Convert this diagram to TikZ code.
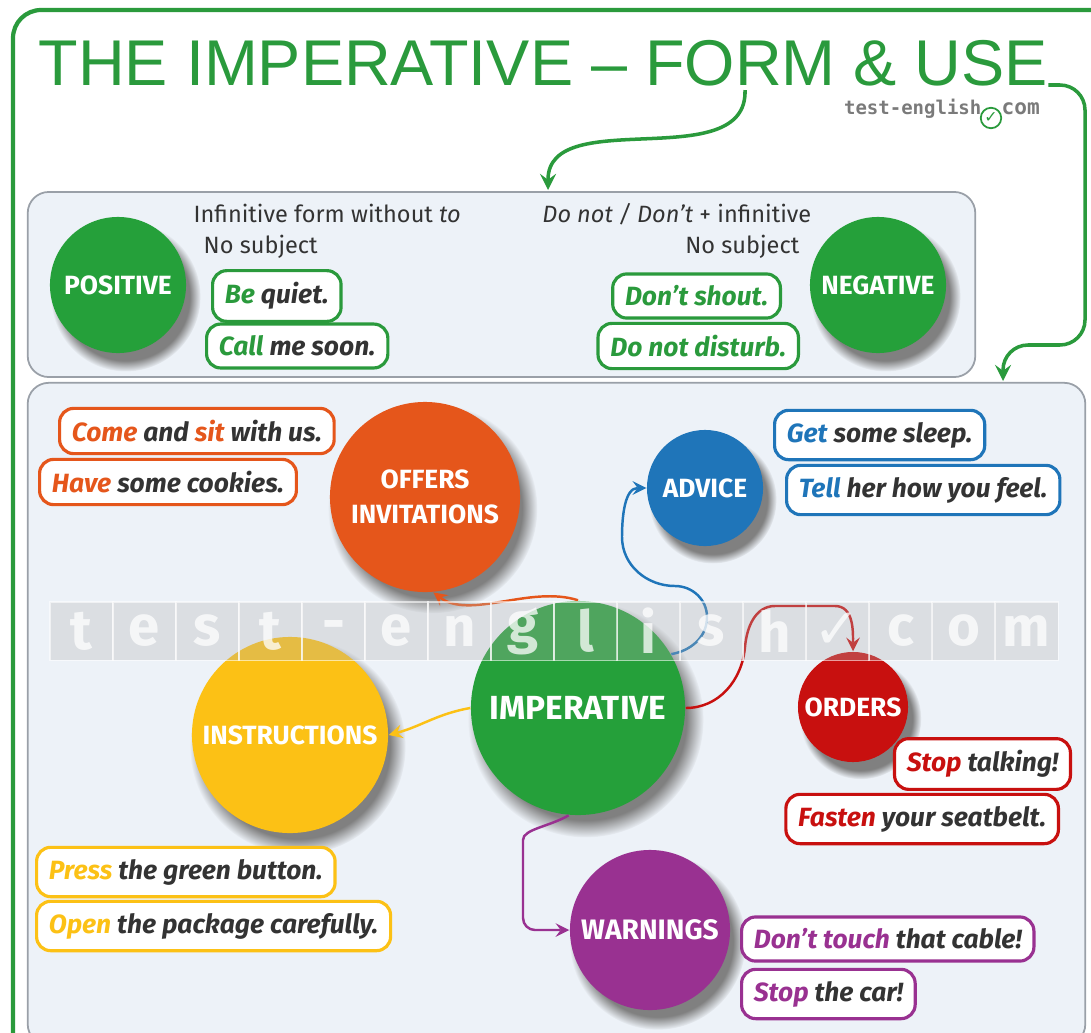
\documentclass[tikz,border=0pt]{standalone}
\usepackage{fontspec}
\setmainfont{Fira Sans}
\newfontfamily\titlefont{Liberation Sans}
\newfontfamily\logofont{DejaVu Sans Mono}
\newfontfamily\symfont{DejaVu Sans}
\usetikzlibrary{positioning,shadows}

\definecolor{titlegreen}{HTML}{2A9A3C}
\definecolor{posgreen}{HTML}{25A03A}
\definecolor{darktext}{HTML}{333333}
\definecolor{offerorange}{HTML}{E5561B}
\definecolor{adviceblue}{HTML}{1F75B9}
\definecolor{instryellow}{HTML}{FCC115}
\definecolor{ordersred}{HTML}{C8100F}
\definecolor{warnpurple}{HTML}{993191}
\definecolor{panelbg}{HTML}{EDF2F8}
\definecolor{panelline}{HTML}{9AA0A8}
\definecolor{logogray}{HTML}{7A7A7A}

\begin{document}
\begin{tikzpicture}[
    x=0.01cm, y=0.01cm,
    panel/.style={rectangle, draw=panelline, fill=panelbg, rounded corners=6pt, line width=0.5pt},
    bubble/.style={circle, fill=#1, text=white, font=\bfseries\fontsize{7.5}{9}\selectfont, align=center, inner sep=0pt,
        circular drop shadow={shadow xshift=2pt, shadow yshift=-3pt, shadow scale=1.1}},
    example/.style={rectangle, draw=#1, fill=white, rounded corners=4pt, line width=0.9pt, minimum height=0.4cm,
        inner xsep=3.5pt, font=\bfseries\itshape\fontsize{7.5}{8.5}\selectfont, text=darktext},
    note/.style={inner sep=0pt, font=\fontsize{6.7}{8}\selectfont, text=darktext},
    link/.style={->, >=stealth, line width=0.7pt},
    greenlink/.style={link, draw=titlegreen, line width=1pt},
    wmcell/.style={rectangle, draw=white, draw opacity=0.6, fill=gray!60, fill opacity=0.3, text=white, text opacity=0.75,
        minimum width=0.63cm, minimum height=0.58cm, inner sep=0pt, line width=0.3pt, font=\bfseries\fontsize{16}{16}\selectfont}
]
    \useasboundingbox (0,0) rectangle (1091,1032);

    % Frame and title
    \draw[titlegreen, line width=1.2pt, rounded corners=8pt] (13,-30) -- (13,1022) -- (1120,1022);
    \node[anchor=base west, inner sep=0pt, text=titlegreen, font=\titlefont\fontsize{18.4}{20}\selectfont] (title) at (38,947) {THE IMPERATIVE – FORM \& USE};
    \node[anchor=base east, inner sep=0pt, text=logogray, font=\logofont\bfseries\fontsize{5.4}{6}\selectfont] (logotext) at (982,918) {test-english};
    \node[circle, draw=titlegreen, line width=0.5pt, inner sep=0.4pt, text=titlegreen, font=\symfont\fontsize{4.5}{5}\selectfont] (logocheck) at (991,914) {✓};
    \node[anchor=base west, inner sep=0pt, text=logogray, font=\logofont\bfseries\fontsize{6}{7}\selectfont] (logocom) at (1001,918) {com};

    % Panels
    \node[panel, minimum width=9.47cm, minimum height=1.85cm] (formpanel) at (501.5,747.5) {};
    \node[panel, minimum width=10.57cm, minimum height=6.62cm] (usepanel) at (556.5,318) {};
    \coordinate (formstart) at (745,942);
    \coordinate (formtop) at (548,842);
    \coordinate (usetop) at (1003,651);

    % Form
    \node[bubble=posgreen, minimum size=1.36cm] (positive) at (118,747) {POSITIVE};
    \node[bubble=posgreen, minimum size=1.36cm] (negative) at (878,747) {NEGATIVE};
    \node[note, anchor=base west] (posrule) at (193,810) {Infinitive form without \textit{to}};
    \node[note, anchor=base west] (possubj) at (203,779) {No subject};
    \node[note, anchor=base east] (negrule) at (812,810) {\textit{Do not / Don't} + infinitive};
    \node[note, anchor=base east] (negsubj) at (800,779) {No subject};
    \node[example=titlegreen, anchor=west] (bequiet) at (211,736) {\textcolor{titlegreen}{Be} quiet.};
    \node[example=titlegreen, anchor=west] (callme) at (205,686) {\textcolor{titlegreen}{Call} me soon.};
    \node[example=titlegreen, anchor=east, text=titlegreen] (dontshout) at (782,736) {Don't shout.};
    \node[example=titlegreen, anchor=east, text=titlegreen] (disturb) at (800,686) {Do not disturb.};

    % Use
    \node[bubble=offerorange, minimum size=1.9cm] (offers) at (425,535) {OFFERS\\[1pt]INVITATIONS};
    \node[bubble=adviceblue, minimum size=1.16cm] (advice) at (705,544) {ADVICE};
    \node[bubble=posgreen, minimum size=2.14cm, font=\bfseries\fontsize{9.5}{11}\selectfont] (imperative) at (578,324) {IMPERATIVE};
    \node[bubble=instryellow, minimum size=1.96cm] (instructions) at (290,297) {INSTRUCTIONS};
    \node[bubble=ordersred, minimum size=1.1cm] (orders) at (853,325) {ORDERS};
    \node[bubble=warnpurple, minimum size=1.6cm, font=\bfseries\fontsize{8}{9}\selectfont] (warnings) at (650,102) {WARNINGS};

    \node[example=offerorange, anchor=west] (come) at (58,601) {\textcolor{offerorange}{Come} and \textcolor{offerorange}{sit} with us.};
    \node[example=offerorange, anchor=west] (cookies) at (38,550) {\textcolor{offerorange}{Have} some cookies.};
    \node[example=adviceblue, anchor=west] (sleep) at (773,597) {\textcolor{adviceblue}{Get} some sleep.};
    \node[example=adviceblue, anchor=west] (tell) at (785,542) {\textcolor{adviceblue}{Tell} her how you feel.};
    \node[example=ordersred, anchor=east] (stoptalk) at (1072,268) {\textcolor{ordersred}{Stop} talking!};
    \node[example=ordersred, anchor=east] (fasten) at (1060,213) {\textcolor{ordersred}{Fasten} your seatbelt.};
    \node[example=instryellow, anchor=west] (press) at (35,160) {\textcolor{instryellow}{Press} the green button.};
    \node[example=instryellow, anchor=west] (open) at (35,106) {\textcolor{instryellow}{Open} the package carefully.};
    \node[example=warnpurple, anchor=west] (touch) at (740,93) {\textcolor{warnpurple}{Don't touch} that cable!};
    \node[example=warnpurple, anchor=west] (stopcar) at (740,38) {\textcolor{warnpurple}{Stop} the car!};

    % Arrows
    \draw[greenlink] (formstart) to[out=-88, in=90] (formtop);
    \draw[greenlink, rounded corners=0.25cm] (title.base east) -| (1085,687) -| (usetop);
    \draw[link, offerorange] (imperative.north) .. controls (530,447) and (470,412) .. (offers.-85);
    \draw[link, adviceblue] (imperative.30) to[out=10, in=-90] (707,415) to[out=90, in=0] (675,446)
        to[out=180, in=-90] (622,495) to[out=90, in=180] (advice.west);
    \draw[link, ordersred] (imperative.east) to[out=0, in=-95] (745,385) to[out=85, in=180] (775,426)
        -- (835,426) to[out=0, in=90] (orders.north);
    \draw[link, instryellow] (imperative.west) to[out=190, in=15] (instructions.east);
    \draw[link, warnpurple, rounded corners=0.12cm] (imperative.-95) to[out=-150, in=90] (523,180) |- (warnings.west);

    % Watermark
    \foreach \ch [count=\i from 0] in {t,e,s,t,-,e,n,g,l,i,s,h,{\symfont ✓},c,o,m}
        \node[wmcell] (wm\i) at (81.5+63*\i,401) {\ch};
\end{tikzpicture}
\end{document}
